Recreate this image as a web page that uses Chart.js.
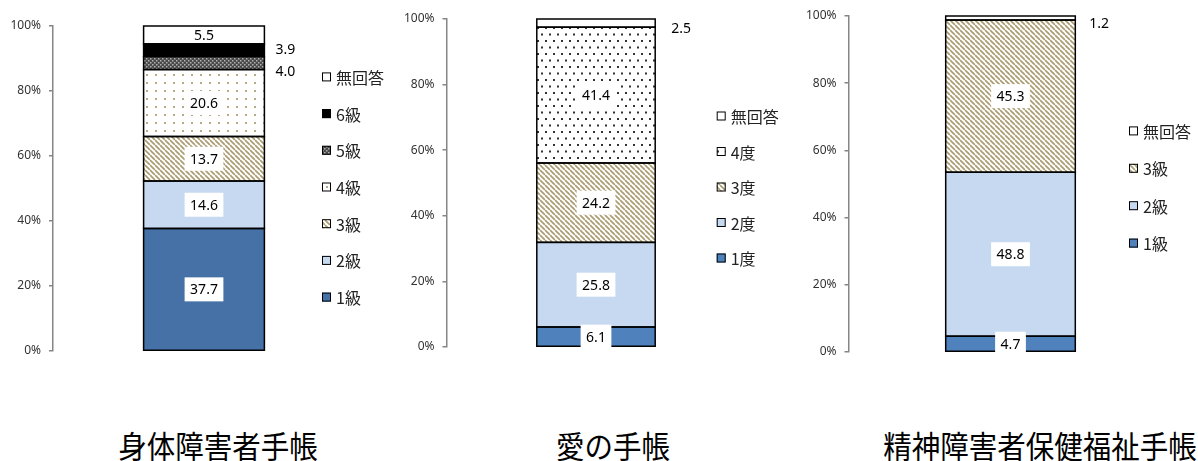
<!DOCTYPE html>
<html lang="ja">
<head>
<meta charset="utf-8">
<title>手帳の等級・程度</title>
<script src="https://cdn.jsdelivr.net/npm/chart.js@4.4.0/dist/chart.umd.min.js"></script>
<style>
  html, body { margin: 0; padding: 0; background: #fff; }
  #page { position: relative; width: 1198px; height: 461px; overflow: hidden; }
  .box { position: absolute; top: 0; height: 400px; }
  .ttl {
    position: absolute; top: 430px; transform: translateX(-50%) scale(1, 1.08); transform-origin: 50% 0;
    font-family: "Noto Sans CJK JP", sans-serif; font-size: 28.5px; line-height: 1;
    color: #000; white-space: nowrap;
  }
</style>
</head>
<body>
<div id="page">
  <div class="box" style="left:0;width:400px"><canvas id="c1"></canvas></div>
  <div class="box" style="left:400px;width:400px"><canvas id="c2"></canvas></div>
  <div class="box" style="left:800px;width:398px"><canvas id="c3"></canvas></div>
  <div class="ttl" id="t1" style="left:218px"></div>
  <div class="ttl" id="t2" style="left:613px"></div>
  <div class="ttl" id="t3" style="left:1040px"></div>
</div>
<script>
// 回答データ（%）
const titles = ["身体障害者手帳", "愛の手帳", "精神障害者保健福祉手帳"];
const yTicks = [0, 20, 40, 60, 80, 100];

const shintaiLabels = ["1級", "2級", "3級", "4級", "5級", "6級", "無回答"];
const shintaiValues = [37.7, 14.6, 13.7, 20.6, 4.0, 3.9, 5.5];

const aiLabels = ["1度", "2度", "3度", "4度", "無回答"];
const aiValues = [6.1, 25.8, 24.2, 41.4, 2.5];

const seishinLabels = ["1級", "2級", "3級", "無回答"];
const seishinValues = [4.7, 48.8, 45.3, 1.2];

// 塗りパターン
function makePattern(w, h, draw) {
  const c = document.createElement("canvas");
  c.width = w; c.height = h;
  const g = c.getContext("2d");
  g.fillStyle = "#fff";
  g.fillRect(0, 0, w, h);
  draw(g, w, h);
  return g.createPattern(c, "repeat");
}

const hatch = makePattern(5, 5, (g, s) => {
  g.strokeStyle = "#ab9c73";
  g.lineWidth = 1.7;
  for (const k of [-s, 0, s]) {
    g.beginPath(); g.moveTo(0, k); g.lineTo(s, s + k); g.stroke();
  }
});
const dotsKhaki = makePattern(9, 8, g => {
  g.fillStyle = "#b8ab82";
  g.fillRect(2, 2, 2, 2);
});
const dotsBlack = makePattern(8, 13, g => {
  g.fillStyle = "#333";
  g.fillRect(1, 1, 2, 2);
  g.fillRect(5, 7.5, 2, 2);
});
const cross = makePattern(4, 4, g => {
  g.fillStyle = "#4a4a4a";
  g.fillRect(0, 0, 4, 4);
  g.fillStyle = "#b0b0b0";
  g.fillRect(0, 0, 1.5, 1.5);
  g.fillRect(2, 2, 1.5, 1.5);
});

const BLUE_DARK = "#4671a6";
const BLUE = "#4f81bd";
const BLUE_LIGHT = "#c6d9f0";

const shintaiFills = [BLUE_DARK, BLUE_LIGHT, hatch, dotsKhaki, cross, "#000", "#fff"];
const aiFills = [BLUE, BLUE_LIGHT, hatch, dotsBlack, "#fff"];
const seishinFills = [BLUE, BLUE_LIGHT, hatch, "#fff"];

const tickFont = { family: "'Noto Sans', sans-serif", size: 12 };
const valueFont = "14px 'Noto Sans', sans-serif";
const legendFont = "16px 'Noto Sans CJK JP', sans-serif";

// 区切り線と数値ラベル
const valueLabels = {
  id: "valueLabels",
  afterDatasetsDraw(chart) {
    const ctx = chart.ctx;
    const area = chart.chartArea;
    ctx.save();
    // 各区分の枠線
    ctx.strokeStyle = "#000";
    ctx.lineWidth = 1.5;
    chart.data.datasets.forEach((ds, i) => {
      const bar = chart.getDatasetMeta(i).data[0];
      ctx.strokeRect(bar.x - bar.width / 2, bar.y, bar.width, bar.base - bar.y);
    });
    ctx.font = valueFont;
    ctx.textBaseline = "middle";
    chart.data.datasets.forEach((ds, i) => {
      const bar = chart.getDatasetMeta(i).data[0];
      const text = ds.data[0].toFixed(1);
      const cy = (bar.y + bar.base) / 2;
      if (ds.outside) {
        ctx.fillStyle = "#000";
        ctx.textAlign = "left";
        ctx.fillText(text, bar.x + bar.width / 2 + ds.outside.dx, cy + ds.outside.dy);
        return;
      }
      ctx.save();
      ctx.beginPath();
      ctx.rect(area.left, area.top, area.right - area.left, area.bottom - area.top);
      ctx.clip();
      if (ds.backgroundColor !== "#fff") {
        const w = ctx.measureText(text).width + 11;
        const h = 24;
        ctx.fillStyle = "#fff";
        ctx.fillRect(bar.x - w / 2, cy - h / 2, w, h);
      }
      ctx.fillStyle = "#000";
      ctx.textAlign = "center";
      ctx.fillText(text, bar.x, cy + 1);
      ctx.restore();
    });
    ctx.restore();
  }
};

// 凡例（上から逆順）
const sideLegend = {
  id: "sideLegend",
  afterDraw(chart, args, opts) {
    const ctx = chart.ctx;
    const sets = chart.data.datasets.slice().reverse();
    const top = opts.centerY - (sets.length - 1) * opts.spacing / 2;
    ctx.save();
    ctx.font = legendFont;
    ctx.textBaseline = "middle";
    ctx.textAlign = "left";
    sets.forEach((ds, k) => {
      const y = top + k * opts.spacing;
      ctx.fillStyle = ds.backgroundColor;
      ctx.fillRect(opts.x, y - 4.5, 9, 9);
      ctx.strokeStyle = "#000";
      ctx.lineWidth = 1;
      ctx.strokeRect(opts.x + 0.5, y - 4, 8, 8);
      ctx.fillStyle = "#222";
      ctx.fillText(ds.label, opts.x + 14, y + 1);
    });
    ctx.restore();
  }
};

function makeChart(id, labels, values, fills, layout) {
  const datasets = labels.map((name, i) => ({
    label: name,
    data: [values[i]],
    backgroundColor: fills[i],
    borderWidth: 0,
    barPercentage: layout.barPct,
    categoryPercentage: 1,
    outside: layout.outside[i] || null
  }));
  return new Chart(document.getElementById(id), {
    type: "bar",
    data: { labels: [""], datasets },
    options: {
      responsive: true,
      maintainAspectRatio: false,
      animation: false,
      layout: { padding: layout.padding },
      scales: {
        x: { stacked: true, display: false },
        y: {
          stacked: true,
          min: 0,
          max: 100,
          afterFit: s => { s.width = layout.axisX; },
          afterBuildTicks: s => { s.ticks = yTicks.map(v => ({ value: v })); },
          ticks: { callback: v => v + "%", font: tickFont, color: "#333", padding: 8 },
          grid: { drawOnChartArea: false, drawTicks: true, tickLength: 4, color: "#868686", lineWidth: 1.5 },
          border: { color: "#868686", width: 1.5 }
        }
      },
      plugins: {
        legend: { display: false },
        tooltip: { enabled: false },
        sideLegend: layout.legend
      }
    },
    plugins: [valueLabels, sideLegend]
  });
}

makeChart("c1", shintaiLabels, shintaiValues, shintaiFills, {
  axisX: 53, barPct: 0.4,
  padding: { left: 0, top: 26, right: 45, bottom: 49 },
  outside: { 4: { dx: 11, dy: 9 }, 5: { dx: 11, dy: 0 } },
  legend: { x: 322, centerY: 187, spacing: 36.7 }
});
makeChart("c2", aiLabels, aiValues, aiFills, {
  axisX: 46.5, barPct: 0.396,
  padding: { left: 0, top: 19, right: 54.5, bottom: 53 },
  outside: { 4: { dx: 16, dy: 6 } },
  legend: { x: 316.7, centerY: 187, spacing: 35.5 }
});
makeChart("c3", seishinLabels, seishinValues, seishinFills, {
  axisX: 48.5, barPct: 0.4,
  padding: { left: 0, top: 16, right: 25.5, bottom: 48 },
  outside: { 3: { dx: 14, dy: 6 } },
  legend: { x: 329, centerY: 187, spacing: 37.4 }
});

["t1", "t2", "t3"].forEach((id, i) => { document.getElementById(id).textContent = titles[i]; });
</script>
</body>
</html>
